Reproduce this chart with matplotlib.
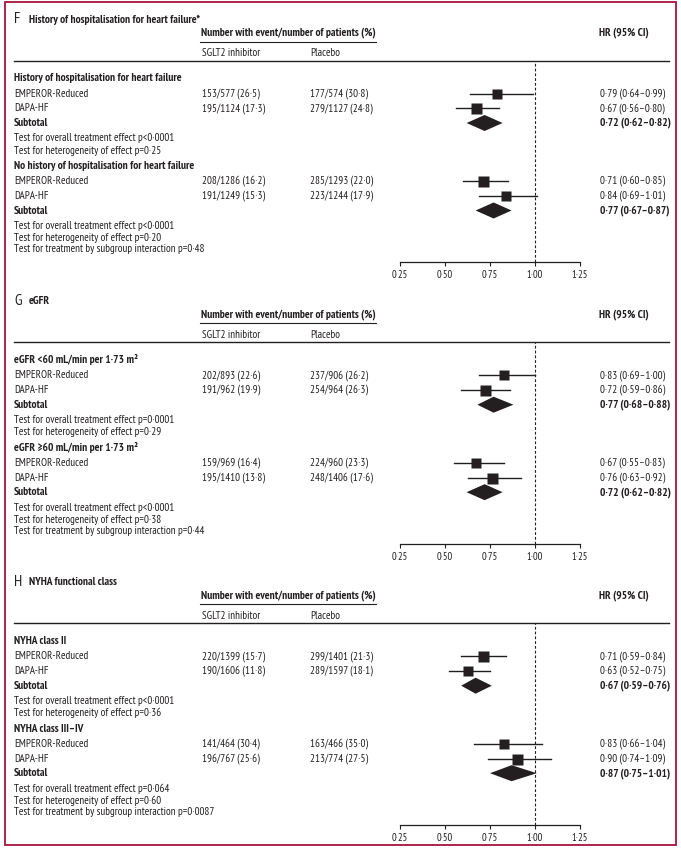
import matplotlib
matplotlib.use('Agg')
import matplotlib.pyplot as plt
from matplotlib.patches import Rectangle
import numpy as np

plt.rcParams['font.family'] = ['PT Sans Narrow', 'DejaVu Sans']

INK = '#231f20'
BORDER = '#a8123e'
FS = 7.95    # regular text
FSB = 8.2    # bold headings

studies = ['EMPEROR-Reduced', 'DAPA-HF']

# ---- panel F: history of hospitalisation for heart failure
f_letter = 'F'
f_title = 'History of hospitalisation for heart failure*'
f_groups = ['History of hospitalisation for heart failure',
            'No history of hospitalisation for heart failure']
f_sglt2_ev = [[153, 195], [208, 191]]
f_sglt2_n = [[577, 1124], [1286, 1249]]
f_sglt2_pct = [[26.5, 17.3], [16.2, 15.3]]
f_plac_ev = [[177, 279], [285, 223]]
f_plac_n = [[574, 1127], [1293, 1244]]
f_plac_pct = [[30.8, 24.8], [22.0, 17.9]]
f_hr = [[(0.79, 0.64, 0.99), (0.67, 0.56, 0.80)], [(0.71, 0.60, 0.85), (0.84, 0.69, 1.01)]]
f_sub = [(0.72, 0.62, 0.82), (0.77, 0.67, 0.87)]
f_p_overall = ['p<0·0001', 'p<0·0001']
f_p_het = ['p=0·25', 'p=0·20']
f_p_inter = 'p=0·48'

# ---- panel G: eGFR
g_letter = 'G'
g_title = 'eGFR'
g_groups = ['eGFR <60 mL/min per 1·73 m²', 'eGFR ≥60 mL/min per 1·73 m²']
g_sglt2_ev = [[202, 191], [159, 195]]
g_sglt2_n = [[893, 962], [969, 1410]]
g_sglt2_pct = [[22.6, 19.9], [16.4, 13.8]]
g_plac_ev = [[237, 254], [224, 248]]
g_plac_n = [[906, 964], [960, 1406]]
g_plac_pct = [[26.2, 26.3], [23.3, 17.6]]
g_hr = [[(0.83, 0.69, 1.00), (0.72, 0.59, 0.86)], [(0.67, 0.55, 0.83), (0.76, 0.63, 0.92)]]
g_sub = [(0.77, 0.68, 0.88), (0.72, 0.62, 0.82)]
g_p_overall = ['p=0·0001', 'p<0·0001']
g_p_het = ['p=0·29', 'p=0·38']
g_p_inter = 'p=0·44'

# ---- panel H: NYHA functional class
h_letter = 'H'
h_title = 'NYHA functional class'
h_groups = ['NYHA class II', 'NYHA class III–IV']
h_sglt2_ev = [[220, 190], [141, 196]]
h_sglt2_n = [[1399, 1606], [464, 767]]
h_sglt2_pct = [[15.7, 11.8], [30.4, 25.6]]
h_plac_ev = [[299, 289], [163, 213]]
h_plac_n = [[1401, 1597], [466, 774]]
h_plac_pct = [[21.3, 18.1], [35.0, 27.5]]
h_hr = [[(0.71, 0.59, 0.84), (0.63, 0.52, 0.75)], [(0.83, 0.66, 1.04), (0.90, 0.74, 1.09)]]
h_sub = [(0.67, 0.59, 0.76), (0.87, 0.75, 1.01)]
h_p_overall = ['p<0·0001', 'p=0·064']
h_p_het = ['p=0·36', 'p=0·60']
h_p_inter = 'p=0·0087'

x_ticks = [0.25, 0.50, 0.75, 1.00, 1.25]

panels = [
    dict(letter=f_letter, title=f_title, groups=f_groups, sev=f_sglt2_ev, sn=f_sglt2_n, sp=f_sglt2_pct,
         pev=f_plac_ev, pn=f_plac_n, pp=f_plac_pct, hr=f_hr, sub=f_sub,
         po=f_p_overall, ph=f_p_het, pi=f_p_inter),
    dict(letter=g_letter, title=g_title, groups=g_groups, sev=g_sglt2_ev, sn=g_sglt2_n, sp=g_sglt2_pct,
         pev=g_plac_ev, pn=g_plac_n, pp=g_plac_pct, hr=g_hr, sub=g_sub,
         po=g_p_overall, ph=g_p_het, pi=g_p_inter),
    dict(letter=h_letter, title=h_title, groups=h_groups, sev=h_sglt2_ev, sn=h_sglt2_n, sp=h_sglt2_pct,
         pev=h_plac_ev, pn=h_plac_n, pp=h_plac_pct, hr=h_hr, sub=h_sub,
         po=h_p_overall, ph=h_p_het, pi=h_p_inter),
]


def d2(v):
    return f'{v:.2f}'.replace('.', '·')


def d1(v):
    return f'{v:.1f}'.replace('.', '·')


def hr_text(t):
    return f'{d2(t[0])} ({d2(t[1])}–{d2(t[2])})'


W, H = 681, 853
fig = plt.figure(figsize=(W / 100, H / 100), dpi=100)
bg = fig.add_axes([0, 0, 1, 1])
bg.set_xlim(0, W)
bg.set_ylim(H, 0)
bg.axis('off')
bg.add_patch(Rectangle((5, 3), 671, 843, fill=False, edgecolor=BORDER, lw=1.3))

# layout (pixels)
X_LAB, X_SG, X_PL, X_HR = 14, 202, 310, 600
X_AX0, X_AX1 = 400, 580
PANEL_TOP = [19, 300.7, 581.7]
# row offsets below the panel title
GROUP_ROWS = [
    dict(head=59, rows=[74.5, 89.3], sub=104, tests=[119, 131.5]),
    dict(head=147, rows=[162, 177], sub=191.5, tests=[207, 219, 230]),
]
THICK, AXIS = 42.5, 244
SQ_MAX = 11  # side of the largest square in a subgroup, px

for pnl, ty in zip(panels, PANEL_TOP):
    bg.text(X_LAB, ty, pnl['letter'], fontsize=11, color=INK, va='center')
    bg.text(29, ty + 0.5, pnl['title'], fontsize=FSB, fontweight='bold', color=INK, va='center')
    bg.text(X_SG - 1, ty + 13.5, 'Number with event/number of patients (%)', fontsize=FSB,
            fontweight='bold', color=INK, va='center')
    bg.text(X_HR - 1, ty + 13.5, 'HR (95% CI)', fontsize=FSB, fontweight='bold', color=INK, va='center')
    bg.plot([X_SG - 2, 376], [ty + 23.5, ty + 23.5], color=INK, lw=0.8)
    bg.text(X_SG, ty + 34, 'SGLT2 inhibitor', fontsize=FS, color=INK, va='center')
    bg.text(X_PL, ty + 34, 'Placebo', fontsize=FS, color=INK, va='center')
    bg.plot([X_LAB, 669], [ty + THICK, ty + THICK], color=INK, lw=1.0)

    # forest axes, y in pixel offsets below the title
    fx = fig.add_axes([X_AX0 / W, 1 - (ty + AXIS) / H, (X_AX1 - X_AX0) / W, (AXIS - THICK) / H])
    fx.set_xlim(0.25, 1.25)
    fx.set_ylim(AXIS, THICK)
    fx.patch.set_visible(False)
    for s in ['top', 'right', 'left']:
        fx.spines[s].set_visible(False)
    fx.spines['bottom'].set_color(INK)
    fx.spines['bottom'].set_linewidth(0.9)
    fx.set_yticks([])
    fx.set_xticks(x_ticks)
    fx.set_xticklabels([d2(t) for t in x_ticks])
    fx.tick_params(axis='x', direction='out', length=3, width=0.8, pad=2,
                   labelsize=7.6, colors=INK)
    fx.axvline(1.0, color=INK, lw=0.8, ls=(0, (2.5, 1.8)))

    for gi, lay in enumerate(GROUP_ROWS):
        bg.text(X_LAB, ty + lay['head'], pnl['groups'][gi], fontsize=FSB, fontweight='bold',
                color=INK, va='center')
        events = np.array(pnl['sev'][gi]) + np.array(pnl['pev'][gi])
        for si, ry in enumerate(lay['rows']):
            bg.text(X_LAB, ty + ry, studies[si], fontsize=FS, color=INK, va='center')
            bg.text(X_SG, ty + ry, f"{pnl['sev'][gi][si]}/{pnl['sn'][gi][si]} ({d1(pnl['sp'][gi][si])})",
                    fontsize=FS, color=INK, va='center')
            bg.text(X_PL, ty + ry, f"{pnl['pev'][gi][si]}/{pnl['pn'][gi][si]} ({d1(pnl['pp'][gi][si])})",
                    fontsize=FS, color=INK, va='center')
            est, lo, hi = pnl['hr'][gi][si]
            bg.text(X_HR, ty + ry, hr_text(pnl['hr'][gi][si]), fontsize=FS, color=INK, va='center')
            side_px = SQ_MAX * np.sqrt(events[si] / events.max())
            fx.plot([lo, hi], [ry + 1, ry + 1], color=INK, lw=1.0, clip_on=False)
            fx.plot([est], [ry + 1], marker='s', ms=side_px * 0.72, color=INK, mec='none', clip_on=False)
        sy = lay['sub']
        bg.text(X_LAB, ty + sy, 'Subtotal', fontsize=FSB, fontweight='bold', color=INK, va='center')
        est, lo, hi = pnl['sub'][gi]
        bg.text(X_HR, ty + sy, hr_text(pnl['sub'][gi]), fontsize=FSB, fontweight='bold', color=INK, va='center')
        fx.fill([lo, est, hi, est], [sy + 1, sy - 7, sy + 1, sy + 9], color=INK, lw=0, clip_on=False)

        tests = [f"Test for overall treatment effect {pnl['po'][gi]}",
                 f"Test for heterogeneity of effect {pnl['ph'][gi]}"]
        if gi == 1:
            tests.append(f"Test for treatment by subgroup interaction {pnl['pi']}")
        for tyy, txt in zip(lay['tests'], tests):
            bg.text(X_LAB, ty + tyy, txt, fontsize=FS, color=INK, va='center')

fig.savefig('out.png', dpi=100)
